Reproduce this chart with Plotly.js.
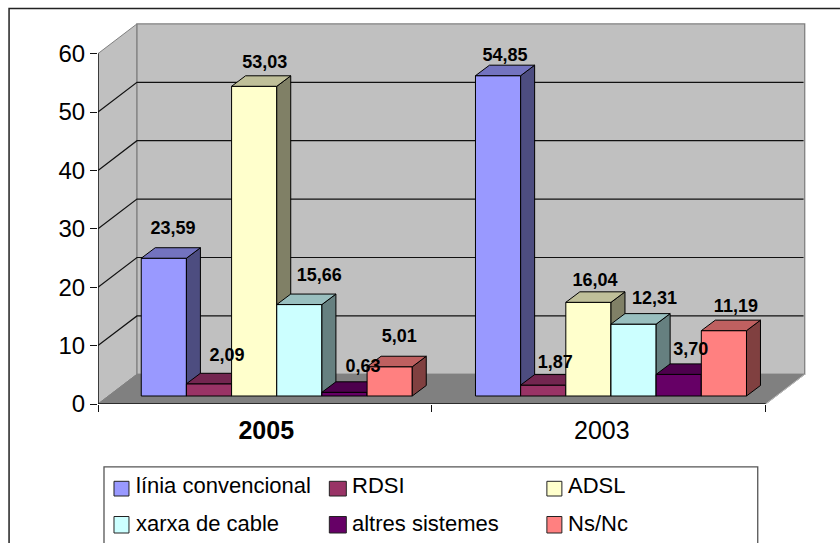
<!DOCTYPE html>
<html>
<head>
<meta charset="utf-8">
<script src="https://cdn.plot.ly/plotly-3.0.1.min.js"></script>
<style>html,body{margin:0;padding:0;background:#fff}</style>
</head>
<body>
<div id="chart" style="width:840px;height:543px"></div>
<script>
// ---- data ----
const years = ['2005', '2003'];
const seriesNames = ['línia convencional', 'RDSI', 'ADSL', 'xarxa de cable', 'altres sistemes', 'Ns/Nc'];
const liniaConvencional = [23.59, 54.85];
const rdsi = [2.09, 1.87];
const adsl = [53.03, 16.04];
const xarxaDeCable = [15.66, 12.31];
const altresSistemes = [0.63, 3.70];
const nsNc = [5.01, 11.19];
const yTicks = [0, 10, 20, 30, 40, 50, 60];

// ---- styles ----
const frontColors = ['#9999FF', '#993366', '#FFFFCC', '#CCFFFF', '#660066', '#FF8080'];
const sideColors = ['#4D4D80', '#4D1A33', '#808066', '#668080', '#330033', '#804040'];
const topColors = ['#7373BF', '#732650', '#BFBF99', '#99BFBF', '#4D004D', '#BF6060'];
const allValues = [liniaConvencional, rdsi, adsl, xarxaDeCable, altresSistemes, nsNc];

// ---- geometry (pixel frame of the plot, and the depth of the fake 3D) ----
const W = 840, H = 543;
const plotL = 97.5, plotR = 812, plotT = 18, plotB = 404;
const kx = 334.1, ky = 5.84;              // px per category, px per value unit
const wallDx = 39 / kx, wallDy = 29.7 / ky;
const barDx = 14 / kx, barDy = 10.5 / ky;
const barWidth = 45.2 / kx, barBase = 8 / ky;
const groupCenters = [0.5354, 1.5365];
const labelPos = [0.504, 1.509];
// data label offsets from the bar's front top centre (px)
const labelDx = [[9.2, 18, 10.5, 20, 18.5, 9.5], [7, 12, 6.5, 21, 12, 12]];
const labelUp = [[28.5, 27, 23, 28.5, 25, 29], [19, 22, 21, 25, 24, 23]];

const px = v => (v - plotL) / (plotR - plotL);
const py = v => (plotB - v) / (plotB - plotT);
const xMax = (plotR - plotL) / kx, yMax = (plotB - plotT) / ky;
const axisTop = yTicks[yTicks.length - 1];

const traces = [];
// walls and floor
function poly(xs, ys, fill, line, lw) {
  return {type: 'scatter', mode: 'lines', x: xs, y: ys, fill: 'toself', fillcolor: fill,
    line: {color: line, width: lw}, hoverinfo: 'skip', showlegend: false, xaxis: 'x', yaxis: 'y'};
}
traces.push(poly([0, wallDx, wallDx, 0, 0], [0, wallDy, wallDy + axisTop, axisTop, 0], '#C0C0C0', '#808080', 1));
traces.push(poly([wallDx, 2 + wallDx, 2 + wallDx, wallDx, wallDx], [wallDy, wallDy, wallDy + axisTop, wallDy + axisTop, wallDy], '#C0C0C0', '#808080', 1.3));
traces.push(poly([0, 2, 2 + wallDx, wallDx, 0], [0, 0, wallDy, wallDy, 0], '#808080', '#808080', 1));
// gridlines
const gx = [], gy = [];
yTicks.slice(1, -1).forEach(v => {
  gx.push(0, wallDx, 2 + wallDx * 0.97, null);
  gy.push(v, v + wallDy, v + wallDy, null);
});
traces.push({type: 'scatter', mode: 'lines', x: gx, y: gy, line: {color: '#111', width: 1.2},
  hoverinfo: 'skip', showlegend: false, xaxis: 'x', yaxis: 'y'});
// axis lines
traces.push({type: 'scatter', mode: 'lines', x: [0, 0, null, 0, 2], y: [0, axisTop, null, 0, 0],
  line: {color: '#111', width: 1.4}, hoverinfo: 'skip', showlegend: false, cliponaxis: false, xaxis: 'x', yaxis: 'y'});
traces.push({type: 'scatter', mode: 'lines', x: [2, 2 + wallDx], y: [0, wallDy],
  line: {color: '#BBBBBB', width: 1}, hoverinfo: 'skip', showlegend: false, xaxis: 'x', yaxis: 'y'});

const overlays = {};
const labelX = [], labelY = [], labelText = [];
allValues.forEach((vals, i) => {
  const n = i + 2;
  const xa = 'x' + n, ya = 'y' + n;
  overlays['xaxis' + n] = {overlaying: 'x', range: [0, xMax], visible: false, fixedrange: true};
  overlays['yaxis' + n] = {overlaying: 'y', range: [0, yMax], visible: false, fixedrange: true};
  const xc = groupCenters.map(c => c + (i - 2.5) * barWidth);
  const sideX = [], sideY = [], topX = [], topY = [];
  vals.forEach((v, g) => {
    const l = xc[g] - barWidth / 2, r = xc[g] + barWidth / 2, t = barBase + v;
    sideX.push(r, r + barDx, r + barDx, r, r, null);
    sideY.push(barBase, barBase + barDy, t + barDy, t, barBase, null);
    topX.push(l, r, r + barDx, l + barDx, l, null);
    topY.push(t, t, t + barDy, t + barDy, t, null);
    labelX.push(xc[g] + labelDx[g][i] / kx);
    labelY.push(t + labelUp[g][i] / ky);
    labelText.push(v.toFixed(2).replace('.', ','));
  });
  const line = {color: '#000', width: 1};
  traces.push({type: 'scatter', mode: 'lines', x: sideX, y: sideY, fill: 'toself', fillcolor: sideColors[i],
    line, hoverinfo: 'skip', showlegend: false, xaxis: xa, yaxis: ya});
  traces.push({type: 'scatter', mode: 'lines', x: topX, y: topY, fill: 'toself', fillcolor: topColors[i],
    line, hoverinfo: 'skip', showlegend: false, xaxis: xa, yaxis: ya});
  traces.push({type: 'bar', name: seriesNames[i], x: xc, y: vals, base: barBase, width: barWidth,
    marker: {color: frontColors[i], line}, showlegend: false, xaxis: xa, yaxis: ya});
});
// data labels on a top overlay
overlays.xaxis8 = {overlaying: 'x', range: [0, xMax], visible: false, fixedrange: true};
overlays.yaxis8 = {overlaying: 'y', range: [0, yMax], visible: false, fixedrange: true};
traces.push({type: 'scatter', mode: 'text', x: labelX, y: labelY, text: labelText, textposition: 'middle center',
  textfont: {family: 'Liberation Sans, Arial, sans-serif', size: 18, color: '#000', weight: 700},
  hoverinfo: 'skip', showlegend: false, cliponaxis: false, xaxis: 'x8', yaxis: 'y8'});

// ---- frame and legend ----
const shapes = [];
const rect = (x0, y0, x1, y1, fill, line, lw) => ({type: 'rect', xref: 'paper', yref: 'paper',
  x0: px(x0), x1: px(x1), y0: py(y0), y1: py(y1), fillcolor: fill, line: {color: line, width: lw}});
shapes.push({type: 'path', xref: 'paper', yref: 'paper',
  path: `M ${px(8.5)} ${py(543)} L ${px(8.5)} ${py(8.5)} L ${px(840)} ${py(8.5)}`,
  line: {color: '#222', width: 1.5}});
shapes.push({type: 'path', xref: 'paper', yref: 'paper',
  path: `M ${px(103.5)} ${py(543)} L ${px(103.5)} ${py(466.8)} L ${px(757.7)} ${py(466.8)} L ${px(757.7)} ${py(543)}`,
  line: {color: '#555', width: 1.3}});
const swatchX = [[113.5, 128.5], [329, 346], [546.7, 561.7]];
const swatchY = [[481.3, 496], [516.5, 533]];
const textX = [135, 350.5, 567];
const textY = [485.5, 523.5];
const annotations = [];
seriesNames.forEach((name, i) => {
  const c = i % 3, r = Math.floor(i / 3);
  shapes.push(rect(swatchX[c][0], swatchY[r][0], swatchX[c][1], swatchY[r][1], frontColors[i], '#222', 1));
  annotations.push({xref: 'paper', yref: 'paper', x: px(textX[c]), y: py(textY[r]), xanchor: 'left', yanchor: 'middle',
    text: name, showarrow: false, borderpad: 0, font: {family: 'Liberation Sans, Arial, sans-serif', size: 22, color: '#000'}});
});

const layout = Object.assign({
  width: W, height: H,
  margin: {l: plotL, r: W - plotR, t: plotT, b: H - plotB, pad: 0, autoexpand: false},
  paper_bgcolor: '#fff', plot_bgcolor: 'rgba(0,0,0,0)',
  showlegend: false, dragmode: false,
  font: {family: 'Liberation Sans, Arial, sans-serif', color: '#000'},
  barmode: 'overlay',
  xaxis: {range: [0, xMax], fixedrange: true, showgrid: false, zeroline: false, showline: false,
    tickmode: 'array', tickvals: labelPos, ticktext: ['<b>' + years[0] + '</b>', years[1]],
    ticks: 'outside', ticklen: 4, tickcolor: 'rgba(0,0,0,0)', tickfont: {size: 25, color: '#000'},
    minor: {ticks: 'outside', tickmode: 'array', tickvals: [0, 1, 2], ticklen: 7, tickcolor: '#111', tickwidth: 1, showgrid: false}},
  yaxis: {range: [0, yMax], fixedrange: true, showgrid: false, zeroline: false, showline: false,
    tickmode: 'array', tickvals: yTicks, ticks: 'outside', ticklen: 7, tickcolor: '#111', tickwidth: 1,
    tickfont: {size: 24, color: '#000'}},
  shapes, annotations
}, overlays);

Plotly.newPlot('chart', traces, layout, {displayModeBar: false, staticPlot: true, responsive: false});
</script>
</body>
</html>
